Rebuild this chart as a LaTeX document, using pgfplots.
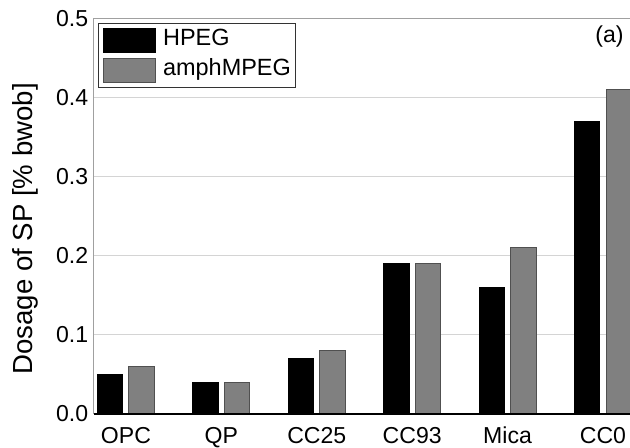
\documentclass[border=0pt]{standalone}
\usepackage{fontspec}
\setmainfont{Liberation Sans}
\usepackage{pgfplots}
\pgfplotsset{compat=1.18}
\definecolor{barg}{HTML}{808080}
\definecolor{bargd}{HTML}{505050}
\definecolor{gridc}{HTML}{D4D4D4}
\definecolor{axg}{HTML}{A0A0A0}
\begin{document}
\begin{tikzpicture}
\begin{axis}[
  scale only axis, width=402pt, height=296.8pt,
  xmin=-0.335, xmax=5.283, ymin=0, ymax=0.5,
  clip=false,
  axis line style={draw=none},
  major tick length=0pt,
  xtick={0,1,2,3,4,5},
  xticklabels={OPC,QP,CC25,CC93,Mica,CC0},
  ytick={0,0.1,0.2,0.3,0.4,0.5},
  yticklabel style={xshift=-0.8pt, /pgf/number format/.cd, fixed, fixed zerofill, precision=1},
  /pgf/number format/assume math mode=true,
  xticklabel style={yshift=-5.9pt, text height=12.6pt, text depth=3.6pt},
  ymajorgrids,
  grid style={gridc, line width=0.75pt},
  tick label style={font=\fontsize{17.3}{20}\selectfont},
  ylabel={Dosage of SP [\% bwob]},
  ylabel style={at={(axis description cs:-0.1287,0.4675)}, anchor=center, font=\fontsize{20.7}{24}\selectfont},
  legend style={at={(axis description cs:0,1)}, anchor=north west, xshift=3.2pt, yshift=-3.75pt,
    draw=black!80, line width=0.75pt, fill=white,
    inner xsep=3.3pt, inner ysep=3.3pt, row sep=3.75pt, column sep=5.5pt,
    font=\fontsize{17.6}{20}\selectfont,
    nodes={inner sep=0pt, text height=13pt, text depth=4pt}},
  legend cell align=left,
  legend image code/.code={\draw[#1,/tikz/.cd] (0pt,-9.5pt) rectangle (38.7pt,8.5pt);},
]
\addplot[ybar, bar width=0.267, bar shift=-0.165, fill=black, draw=black, line width=0.75pt]
  coordinates {(0,0.05) (1,0.04) (2,0.07) (3,0.19) (4,0.16) (5,0.37)};
\addlegendentry{HPEG}
\addplot[ybar, bar width=0.267, bar shift=0.165, fill=barg, draw=bargd, line width=0.75pt]
  coordinates {(0,0.06) (1,0.04) (2,0.08) (3,0.19) (4,0.21) (5,0.41)};
\addlegendentry{amphMPEG}
\draw[axg, line width=0.75pt] (rel axis cs:0,0) -- (rel axis cs:0,1) -- (rel axis cs:1,1);
\draw[black, line width=1pt] (rel axis cs:0,0) -- (rel axis cs:1,0);
\node[font=\fontsize{17.3}{20}\selectfont] at (axis cs:5.068,0.4764) {(a)};
\coordinate (bl) at (rel axis cs:0,0);
\coordinate (tr) at (rel axis cs:1,1);
\end{axis}
\pgfresetboundingbox
\path[use as bounding box] ([xshift=-70.5pt,yshift=-25.5pt]bl) rectangle ([yshift=13.7pt]tr);
\end{tikzpicture}
\end{document}
